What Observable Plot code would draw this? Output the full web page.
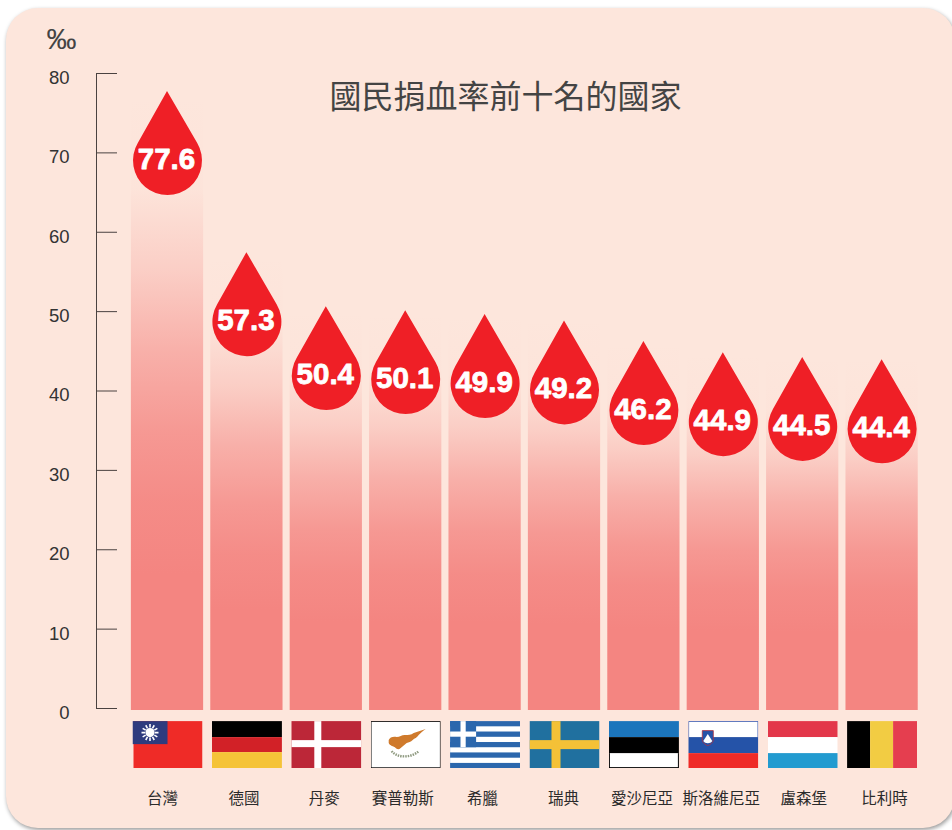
<!DOCTYPE html>
<html lang="zh-Hant">
<head>
<meta charset="utf-8">
<title>國民捐血率前十名的國家</title>
<script src="https://cdn.jsdelivr.net/npm/d3@7"></script>
<script src="https://cdn.jsdelivr.net/npm/@observablehq/plot@0.6"></script>
<style>
  html, body { margin: 0; padding: 0; background: #fff; overflow: hidden; width: 952px; height: 830px; }
  #panel { position: absolute; left: 6px; top: 8px; width: 949px; height: 820px; border-radius: 32px;
           background: #fde6dc; box-shadow: 1px 2px 4px rgba(0,0,0,.4); }
  #chart { position: absolute; left: 0; top: 0; }
  #chart svg { display: block; }
</style>
</head>
<body>
<div id="panel"></div>
<div id="chart"></div>
<script>
// --- data ---
const countries = ["台灣","德國","丹麥","賽普勒斯","希臘","瑞典","愛沙尼亞","斯洛維尼亞","盧森堡","比利時"];
const values = [77.6, 57.3, 50.4, 50.1, 49.9, 49.2, 46.2, 44.9, 44.5, 44.4];
// where the tip of each drop sits on the axis, as drawn in the picture
const dropLevels = [77.6, 57.3, 50.5, 50.0, 49.5, 48.7, 46.1, 44.7, 44.1, 43.8];
const axisTicks = [0, 10, 20, 30, 40, 50, 60, 70, 80];
const unitLabel = "‰";
const titleText = "國民捐血率前十名的國家";

// --- flags, small pictures placed by the image mark ---
const svgFlag = (body) => "data:image/svg+xml;utf8," + encodeURIComponent(
  `<svg xmlns="http://www.w3.org/2000/svg" viewBox="0 0 70 47" preserveAspectRatio="none">${body}</svg>`);
const r = (x, y, w, h, f) => `<rect x="${x}" y="${y}" width="${w}" height="${h}" fill="${f}"/>`;
const sunRays = d3.range(12).map(i => {
  const a = i * Math.PI / 6;
  return `<line x1="${(17.5 + 5 * Math.cos(a)).toFixed(2)}" y1="${(11.5 + 5 * Math.sin(a)).toFixed(2)}" x2="${(17.5 + 8.5 * Math.cos(a)).toFixed(2)}" y2="${(11.5 + 8.5 * Math.sin(a)).toFixed(2)}" stroke="#fff" stroke-width="1.6"/>`;
}).join("");
const flags = [
  svgFlag(r(1,0,69,47,"#ef2b27") + r(0,0,35,23,"#2e3b7e") + sunRays + `<circle cx="17.5" cy="11.5" r="4.6" fill="#fff"/>`),
  svgFlag(r(0,0,70,16,"#000") + r(0,16,70,15,"#d22127") + r(0,31,70,16,"#f5c338")),
  svgFlag(r(0,0,70,47,"#bc2738") + r(23,0,7,47,"#fff") + r(0,19,70,7,"#fff")),
  svgFlag(r(0,0,70,47,"#000") + r(0.8,0.8,68.4,45.4,"#fff") +
    `<path d="M18 19 C19 16 23 15 26 16 C29 16 31 14 34 14 C38 14 40 14 43 12 C47 11 51 9 55 8 C52 10 50 12 48 14 C46 17 44 17 42 19 C40 21 38 21 36 22 C34 24 32 25 30 27 C28 29 26 28 25 27 C23 25 19 25 18 22 C18 21 18 20 18 19Z" fill="#cf7a2c"/>` +
    `<path d="M21 30 C26 37 41 37 48 30" fill="none" stroke="#8f9a80" stroke-width="2.4" stroke-dasharray="1.5 1"/>`),
  svgFlag(r(0,0,70,47,"#2b67ad") + [5.2,15.7,26.1,36.6].map(y => r(0,y,70,5.2,"#fff")).join("") +
    r(0,0,26,26.1,"#2b67ad") + r(10.4,0,5.2,26.1,"#fff") + r(0,10.4,26,5.2,"#fff")),
  svgFlag(r(0,0,70,47,"#20709f") + r(22,0,9,47,"#f4c137") + r(0,19,70,9,"#f4c137")),
  svgFlag(r(0,0,70,16,"#1c75bc") + r(0,16,70,16,"#000") + r(0,32,70,15,"#000") + r(1,32,68,14,"#fff")),
  svgFlag(r(0,0,70,16,"#3f5fb5") + r(0.8,0.8,68.4,15.2,"#fff") + r(0,16,70,16,"#2553a8") + r(0,32,70,15,"#ef2b27") +
    `<path d="M14 9.5 H25 V19 C25 22 21 24 19.5 24.5 C18 24 14 22 14 19Z" fill="#2553a8" stroke="#b0303e" stroke-width="0.8"/>` +
    `<path d="M15 20 L19.5 13 L24 20 C22 23 17 23 15 20Z" fill="#fff"/>`),
  svgFlag(r(0,0,70,16,"#e3374a") + r(0,16,70,16,"#fff") + r(0,32,70,15,"#229bd0")),
  svgFlag(r(0,0,23,47,"#000") + r(23,0,23,47,"#f2cc43") + r(46,0,24,47,"#e53e4f"))
];

const rows = countries.map((country, i) => ({country, value: values[i], level: dropLevels[i], flag: flags[i]}));

// --- a teardrop with its tip on the anchor point ---
const dropSymbol = {
  draw(context, size) {
    const rad = Math.sqrt(size / Math.PI);
    const d = rad * 1.97;
    const a = Math.asin(rad / d);
    context.moveTo(-0.5, -1.5);
    context.lineTo(rad * Math.cos(a), d - rad * Math.sin(a));
    context.arc(0, d, rad, -a, Math.PI + a, false);
    context.closePath();
  }
};

const gradient = () => {
  const defs = d3.create("svg:defs");
  const g = defs.append("linearGradient").attr("id", "barFade")
    .attr("x1", 0).attr("y1", 0).attr("x2", 0).attr("y2", 1);
  [[0, 0], [0.155, 0.02], [0.29, 0.25], [0.42, 0.56], [0.55, 0.8], [0.66, 0.93], [0.78, 1], [1, 1]].forEach(([o, a]) =>
    g.append("stop").attr("offset", o).attr("stop-color", "#f48581").attr("stop-opacity", a));
  return defs.node();
};

const labelNudge = [-5, -3, -2, -3, -2.5, -1, -2, -2, 1, 2.5];

const chart = Plot.plot({
  width: 952,
  height: 830,
  marginTop: 73,
  marginBottom: 122,
  marginLeft: 96,
  marginRight: 0,
  style: {background: "transparent", fontFamily: "'Liberation Sans', Arial, sans-serif"},
  x: {domain: countries, range: [127.3, 921.3], paddingInner: 0.09, paddingOuter: 0.045, round: false, axis: null},
  y: {domain: [0, 80], axis: null},
  marks: [
    gradient,
    Plot.frame({anchor: "left", stroke: "#4a4240", strokeWidth: 1}),
    Plot.ruleY(axisTicks, {y: d => d, insetRight: 835, stroke: "#4a4240", strokeWidth: 1}),
    Plot.axisY(axisTicks, {anchor: "left", tickSize: 0, tickPadding: 27, dy: 4.5, fontSize: 18.5, fill: "#333", label: null, tickFormat: d => d}),
    Plot.text([unitLabel], {frameAnchor: "top-left", dx: -50, dy: -46, fontSize: 30, fill: "#444", fontWeight: 300}),
    Plot.barY(rows, {x: "country", y: "value", fill: "url(#barFade)", insetBottom: -2}),
    Plot.dot(rows, {x: "country", y: "level", r: 34.5, symbol: dropSymbol, fill: "#ef1f26", stroke: "none"}),
    Plot.text(rows, {x: "country", y: "level", text: d => d.value.toFixed(1), dx: -1, dy: 67, fontSize: 29.5, fontWeight: 700,
      fill: "#fff", stroke: "#fff", strokeWidth: 0.8}),
    Plot.image(rows, {x: "country", y: () => -4.55, src: "flag", width: 70, height: 47, preserveAspectRatio: "none"}),
    ...rows.map((d, i) => Plot.text([d], {x: "country", y: () => -11.35, text: "country", dx: labelNudge[i], fontSize: 15.5,
      fontFamily: "'Noto Sans CJK TC', sans-serif", fill: "#2b2b2b"})),
    Plot.text([titleText], {frameAnchor: "top-left", dx: 233, dy: 12, fontSize: 32, fill: "#444",
      fontFamily: "'Noto Sans CJK TC', sans-serif"})
  ]
});
document.getElementById("chart").appendChild(chart);
</script>
</body>
</html>
